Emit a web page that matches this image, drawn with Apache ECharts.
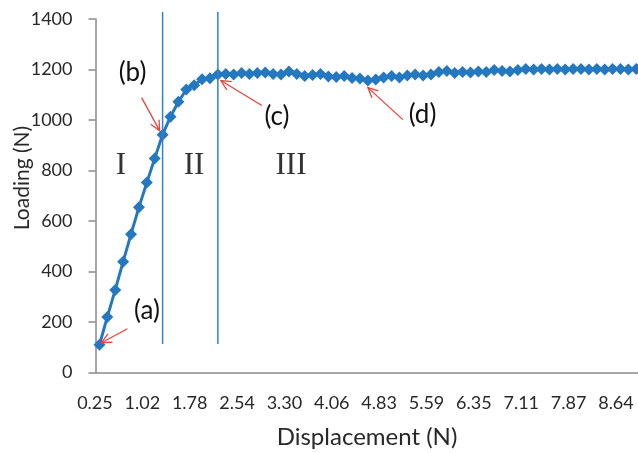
<!DOCTYPE html>
<html><head><meta charset="utf-8">
<script src="https://cdn.jsdelivr.net/npm/echarts@6/dist/echarts.min.js"></script>
<style>html,body{margin:0;padding:0;overflow:hidden;background:#fff}#c{width:660px;height:453px}</style>
</head><body><div id="c"></div><script>
// Displacement categories (x axis)
const categories = ['0.25','0.38','0.51','0.64','0.76','0.89','1.02','1.14','1.27','1.40',
'1.52','1.65','1.78','1.91','2.03','2.16','2.29','2.41','2.54','2.67',
'2.79','2.92','3.05','3.18','3.30','3.43','3.56','3.68','3.81','3.94',
'4.06','4.19','4.32','4.45','4.57','4.70','4.83','4.95','5.08','5.21',
'5.33','5.46','5.59','5.72','5.84','5.97','6.10','6.22','6.35','6.48',
'6.60','6.73','6.86','6.99','7.11','7.24','7.37','7.49','7.62','7.75',
'7.87','8.00','8.13','8.26','8.38','8.51','8.64','8.76','8.89','9.02'];
// Loading values (N)
const loading = [110,220,327,439,548,654,752,848,942,1013,
1072,1121,1138,1161,1165,1180,1182,1180,1186,1182,
1186,1188,1182,1180,1192,1182,1174,1178,1182,1172,
1170,1174,1166,1164,1156,1160,1168,1174,1168,1176,
1180,1176,1180,1190,1194,1186,1190,1188,1192,1190,
1198,1194,1192,1198,1202,1200,1202,1200,1202,1200,
1202,1202,1200,1202,1200,1202,1202,1200,1202,1200];
const yTicks = [0,200,400,600,800,1000,1200,1400];
const pointLabels = ['(a)','(b)','(c)','(d)'];
const pointIndex = [0, 8, 15, 34];
const stageLabels = ['I','II','III'];
const stageBounds = [8, 15]; // category indices of the vertical divider lines

const chart = echarts.init(document.getElementById('c'), null, {renderer:'canvas'});
const blue = '#2478c0';
const axisGray = '#8a8a8a';
const txt = '#282828';
const font = 'Lato';
chart.setOption({
  animation:false,
  backgroundColor:'#fff',
  grid:{left:95.5, top:19, width:552.6, height:353.5, containLabel:false, outerBoundsMode:'none'},
  xAxis:{type:'category', data:categories, boundaryGap:true,
    axisLine:{lineStyle:{color:axisGray, width:1.5}},
    axisTick:{interval:5, length:5, lineStyle:{color:axisGray, width:1.5}},
    axisLabel:{interval:5, fontSize:18, fontFamily:font, color:txt, margin:22, padding:[0,9,0,0]},
    splitLine:{show:false}},
  yAxis:{type:'value', min:yTicks[0], max:yTicks[yTicks.length-1], interval:200,
    axisLine:{show:true, lineStyle:{color:axisGray, width:1.5}},
    axisTick:{show:true, length:7, lineStyle:{color:axisGray, width:1.5}},
    axisLabel:{fontSize:18, fontFamily:font, color:txt, margin:23, formatter:function(v){return String(v);}},
    splitLine:{show:false}},
  series:[{type:'line', data:loading, symbol:'diamond', symbolSize:12, showAllSymbol:true, smooth:false,
    lineStyle:{color:blue, width:3}, itemStyle:{color:blue}}]
});

function px(i){ return chart.convertToPixel({seriesIndex:0}, [i, loading[i]]); }
const g = [];
// vertical divider lines
stageBounds.forEach(function(i){
  const x = px(i)[0];
  g.push({type:'line', shape:{x1:x, y1:12, x2:x, y2:344}, style:{stroke:'#2f84c8', lineWidth:1.5}, z:10});
});
// arrows
const arrowOff = [[2,-2,26,-14],[-3,-4,-18,-33],[3,6,41,25],[0,7,35,32]];
const textPos = [[147,311],[132.5,72.5],[277,117],[422.5,115]];
pointIndex.forEach(function(i,k){
  const p = px(i);
  const tx = p[0]+arrowOff[k][0], ty = p[1]+arrowOff[k][1];
  const sx = tx+arrowOff[k][2], sy = ty+arrowOff[k][3];
  const ang = Math.atan2(sy-ty, sx-tx);
  const L = 11, a = 0.45;
  g.push({type:'line', shape:{x1:sx,y1:sy,x2:tx,y2:ty}, style:{stroke:'#e5453c', lineWidth:1.3}, z:20});
  g.push({type:'polyline', shape:{points:[[tx+L*Math.cos(ang+a), ty+L*Math.sin(ang+a)],[tx,ty],[tx+L*Math.cos(ang-a), ty+L*Math.sin(ang-a)]]}, style:{stroke:'#e5453c', lineWidth:1.3, fill:null}, z:20});
  g.push({type:'text', x:textPos[k][0], y:textPos[k][1], style:{text:pointLabels[k], font:'26px Lato', fill:'#111', align:'center', verticalAlign:'middle'}, z:20});
});
// stage labels
const stagePos = [[121,166],[194,166],[291,166]];
stageLabels.forEach(function(s,k){
  g.push({type:'text', x:stagePos[k][0], y:stagePos[k][1], style:{text:s, font:'31px "Liberation Serif"', fill:'#333', align:'center', verticalAlign:'middle'}, z:20});
});
// axis titles
g.push({type:'text', x:367, y:437, style:{text:'Displacement (N)', font:'24px Lato', fill:txt, align:'center', verticalAlign:'middle'}});
g.push({type:'text', x:22, y:178, rotation:Math.PI/2, style:{text:'Loading (N)', font:'21px Lato', fill:txt, align:'center', verticalAlign:'middle'}});
chart.setOption({graphic:g});
</script></body></html>
